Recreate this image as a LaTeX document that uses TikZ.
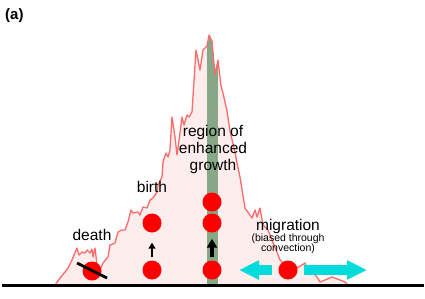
\documentclass[tikz,border=0pt]{standalone}
\usepackage{fontspec}
\setmainfont{Liberation Sans}
\usetikzlibrary{arrows.meta}
\definecolor{pinkfill}{HTML}{FDEDED}
\definecolor{curvered}{HTML}{FF6A6A}
\definecolor{bargreen}{HTML}{86A886}
\definecolor{dotred}{HTML}{FF0000}
\definecolor{migcyan}{HTML}{00DCDC}
\def\epicurve{(55,285) -- (60,278) -- (65,272) -- (68,268) -- (72,260) -- (77,248) -- (79,255) -- (82,252) -- (85,253) -- (87,250) -- (90,253) -- (92,249) -- (93,257) -- (95,248) -- (97,265) -- (100,270) -- (103,263) -- (108,257) -- (110,245) -- (115,243) -- (118,232) -- (122,230) -- (125,230) -- (128,222) -- (131,210) -- (133,213) -- (138,212) -- (140,215) -- (143,207) -- (147,208) -- (150,200) -- (153,198) -- (157,192) -- (158,185) -- (162,177) -- (163,162) -- (166,153) -- (168,157) -- (170,150) -- (172,117) -- (175,137) -- (177,155) -- (180,133) -- (182,117) -- (184,125) -- (187,115) -- (189,117) -- (192,112) -- (196,50) -- (200,70) -- (203,50) -- (207,46) -- (209,35) -- (212,41) -- (215,75) -- (218,60) -- (221,86) -- (223,93) -- (227,111) -- (230,131) -- (235,152) -- (237,163) -- (240,177) -- (245,208) -- (252,218) -- (255,210) -- (257,217) -- (260,208) -- (263,225) -- (268,230) -- (280,260) -- (288,268) -- (297,268) -- (302,265) -- (305,263) -- (307,268) -- (312,272) -- (317,277) -- (320,282) -- (325,280) -- (332,277) -- (335,278) -- (340,280) -- (345,282) -- (348,285)}
\begin{document}
\begin{tikzpicture}[x=1pt,y=-1pt,
  dot/.style={circle,fill=dotred,inner sep=0pt,minimum size=19pt},
  lbl/.style={font=\fontsize{15.5pt}{17pt}\selectfont,inner sep=0pt,align=center},
  smalllbl/.style={font=\fontsize{10.5pt}{10pt}\selectfont,inner sep=0pt,align=center},
  cyanarrow/.style={draw=migcyan,line width=10pt,-{Triangle[length=20pt,width=18pt]}},
  birtharrow/.style={draw=black,line width=2.5pt,-{Triangle[length=6pt,width=7pt]},shorten <=3pt,shorten >=10pt},
  growarrow/.style={draw=black,line width=4pt,-{Triangle[length=9pt,width=10pt]},shorten <=3pt,shorten >=6pt}]
\useasboundingbox (0,0) rectangle (425,298);
% population curve
\fill[pinkfill] \epicurve -- (55,285) -- cycle;
\begin{scope}
  \clip \epicurve -- (55,285) -- cycle;
  \fill[bargreen] (207,0) rectangle (218,290);
\end{scope}
\draw[curvered,line width=1.3pt,line join=round] \epicurve;
% ground line
\draw[line width=3pt] (1.5,285) -- (423.5,285);
% particles
\node[dot] (d) at (92,271) {};
\node[dot] (b1) at (152,270) {};
\node[dot] (b2) at (152,223) {};
\node[dot] (g1) at (212,270) {};
\node[dot] (g2) at (212,223) {};
\node[dot] (g3) at (212,202) {};
\node[dot] (m) at (288,270) {};
\coordinate (ltip) at (239,270);
\coordinate (rtip) at (367,270);
% death mark
\draw[line width=2.7pt] ([shift={(-15,-8)}]d.center) -- ([shift={(15,7)}]d.center);
% arrows
\draw[birtharrow] (b1) -- (b2);
\draw[growarrow] (g1) -- (g2);
\draw[cyanarrow,shorten <=6pt] (m) -- (ltip);
\draw[cyanarrow,shorten <=6pt] (m) -- (rtip);
% labels
\node[font=\bfseries\fontsize{15pt}{17pt}\selectfont,anchor=base west,inner sep=0pt] (lab) at (5,19.5) {(a)};
\node[lbl,anchor=base] (tdeath) at (92,240.5) {death};
\node[lbl,anchor=base] (tbirth) at (152,192.5) {birth};
\node[lbl] (tgrowth) at (213,149) {region of\\enhanced\\growth};
\node[lbl,anchor=base] (tmig) at (288,230.5) {migration};
\node[smalllbl] (tbias) at (288,243.5) {(biased through\\convection)};
\end{tikzpicture}
\end{document}
